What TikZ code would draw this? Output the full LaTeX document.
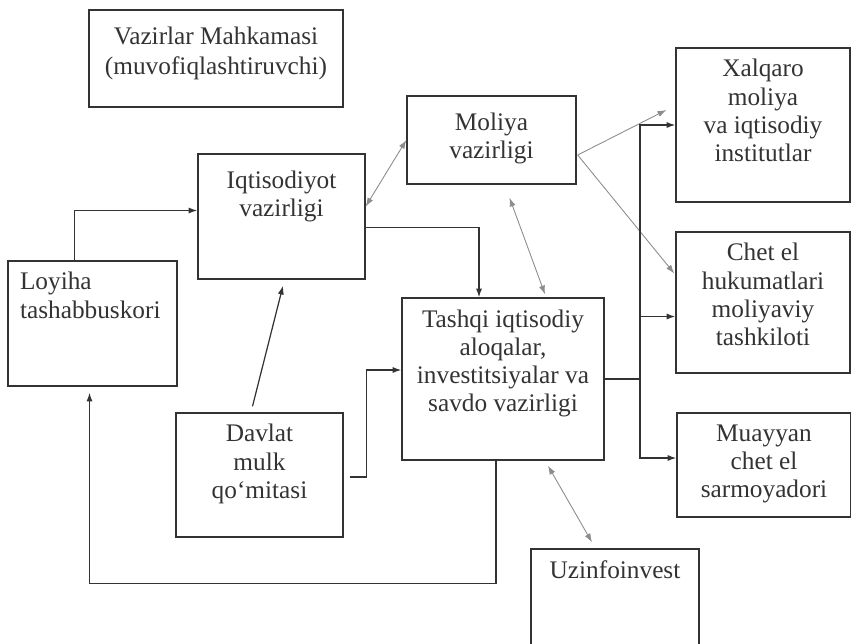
\documentclass[tikz,border=0pt]{standalone}
\usepackage{fontspec}
\setmainfont{Liberation Serif}
\usetikzlibrary{arrows.meta, positioning, calc}
\definecolor{ink}{gray}{0.2}
\definecolor{faint}{gray}{0.55}
\newcommand{\boxtxt}[3]{\parbox[c][#2][t]{#1}{\vspace*{6.5pt}#3}}

\begin{document}
\begin{tikzpicture}[x=0.02cm, y=-0.02cm, >={Latex[length=5pt,width=3.5pt]},
  box/.style={draw=ink, line width=0.8pt, inner sep=0pt, text=ink, font=\fontsize{14.4}{16}\selectfont},
  link/.style={draw=ink, line width=0.7pt},
  slim/.style={draw=faint, line width=0.5pt}]
  \useasboundingbox (0,0) rectangle (851,643);
  \clip (0,0) rectangle (851,643);
  % boxes
  \node[box] (vaz) at (216,58.5) {\boxtxt{5.08cm}{1.94cm}{\vspace*{3pt}\centering\baselineskip=17pt Vazirlar Mahkamasi\\(muvofiqlashtiruvchi)}};
  \node[box] (iqt) at (281.5,216.5) {\boxtxt{3.34cm}{2.5cm}{\vspace*{3pt}\centering Iqtisodiyot\\vazirligi}};
  \node[box] (mol) at (491.5,140) {\boxtxt{3.38cm}{1.76cm}{\vspace*{3pt}\centering Moliya\\vazirligi}};
  \node[box] (loy) at (92.5,323.5) {\boxtxt{3.38cm}{2.5cm}{\raggedright\leftskip=0.24cm Loyiha\\tashabbuskori}};
  \node[box] (dav) at (259.5,475) {\boxtxt{3.34cm}{2.48cm}{\centering Davlat\\mulk\\qo‘mitasi}};
  \node[box] (tas) at (503,379) {\boxtxt{4.04cm}{3.24cm}{\centering Tashqi iqtisodiy\\aloqalar,\\investitsiyalar va\\savdo vazirligi}};
  \node[box] (xal) at (763,125) {\boxtxt{3.48cm}{3.08cm}{\centering Xalqaro\\moliya\\va iqtisodiy\\institutlar}};
  \node[box] (che) at (763,302.5) {\boxtxt{3.48cm}{2.82cm}{\centering Chet el\\hukumatlari\\moliyaviy\\tashkiloti}};
  \node[box] (mua) at (764,465) {\boxtxt{3.48cm}{2.08cm}{\centering Muayyan\\chet el\\sarmoyadori}};
  \node[box] (uzi) at (615,619) {\boxtxt{3.36cm}{2.8cm}{\centering Uzinfoinvest}};
  \coordinate (fan) at ([shift={(1,15)}]mol.east);
  \coordinate (bus) at (640,379);
  % connectors
  \draw[link,->] ([shift={(-18,0)}]loy.north) |- ([shift={(0,-6)}]iqt.west);
  \draw[slim,<->] ([shift={(0,-10)}]iqt.east) -- (mol.west);
  \draw[link,->] ([shift={(0,11)}]iqt.east) -| ([shift={(-24,0)}]tas.north);
  \draw[slim,<->] ([shift={(18,13)}]mol.south) -- ([shift={(42,-3)}]tas.north);
  \draw[slim,->] (fan) -- ([shift={(-9,-15)}]xal.west);
  \draw[slim,->] (fan) -- ([shift={(-1,-29)}]che.west);
  \draw[link] (tas.east) -- (bus);
  \draw[link,->] (bus) |- (xal.west);
  \draw[link,->] (bus) |- ([shift={(0,14)}]che.west);
  \draw[link,->] (bus) |- ([shift={(0,-7)}]mua.west);
  \draw[link,->] ([shift={(-7,-6)}]dav.north) -- ([shift={(1.5,6)}]iqt.south);
  \draw[link,->] ([shift={(6,2)}]dav.east) -- ++(17,0) |- ([shift={(0,-9)}]tas.west);
  \draw[link,->] ([shift={(-7,0)}]tas.south) -- ++(0,123) -| ([shift={(-3,6)}]loy.south);
  \draw[slim,<->] ([shift={(45,5)}]tas.south) -- ([shift={(-23,-6)}]uzi.north);
\end{tikzpicture}
\end{document}
